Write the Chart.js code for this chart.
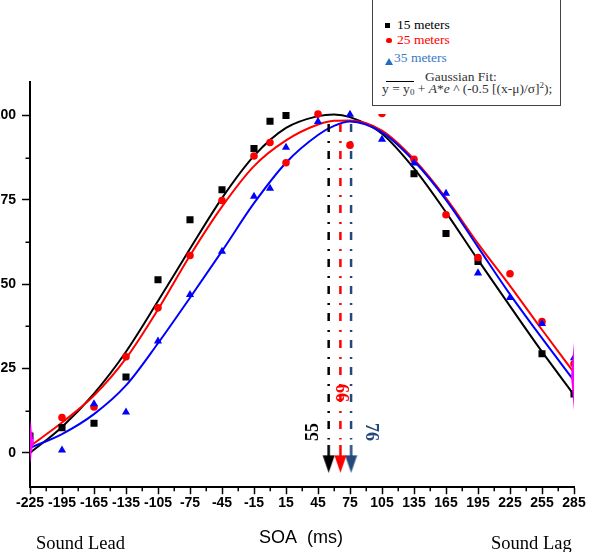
<!DOCTYPE html>
<html><head><meta charset="utf-8">
<script src="https://cdn.jsdelivr.net/npm/chart.js@4"></script>
<style>
body{margin:0;background:#fff;}
#wrap{position:relative;width:591px;height:552px;overflow:hidden;background:#fff;}
#c{position:absolute;left:0;top:0;}
.t{position:absolute;white-space:nowrap;line-height:1;}
.serif{font-family:"Liberation Serif","Times New Roman",serif;}
.sans{font-family:"Liberation Sans",Arial,sans-serif;}
#lgbox{position:absolute;left:372px;top:-3px;width:189px;height:109px;border:1.5px solid #444;background:#fff;box-sizing:border-box;}
</style></head>
<body><div id="wrap">
<canvas id="c" width="591" height="552"></canvas>
<div class="t" style="left:374px;top:104px;width:186px;height:9.5px;background:#fff;"></div>
<div id="lgbox"></div>
<div class="t" style="left:385px;top:23px;width:4.5px;height:4.5px;background:#000;"></div>
<div class="t serif" style="left:397px;top:18px;font-size:13.5px;color:#000;">15 meters</div>
<div class="t" style="left:386px;top:37.5px;width:5.5px;height:5.5px;border-radius:50%;background:#ff0000;"></div>
<div class="t serif" style="left:397px;top:33px;font-size:13.5px;color:#ff0000;">25 meters</div>
<div class="t" style="left:385px;top:58px;width:0;height:0;border-left:4px solid transparent;border-right:4px solid transparent;border-bottom:7px solid #1e6ec8;"></div>
<div class="t serif" style="left:394px;top:51px;font-size:13.5px;color:#3a78c6;">35 meters</div>
<div class="t" style="left:386px;top:80.5px;width:28px;height:1.3px;background:#000;"></div>
<div class="t serif" style="left:425px;top:70px;font-size:13.5px;color:#333;">Gaussian Fit:</div>
<div class="t serif" style="left:382px;top:81px;font-size:13.5px;color:#333;">y = y<span style="font-size:9px;vertical-align:-2px;">0</span> + <i>A</i>*<i>e</i> ^ (-0.5 [(x-μ)/σ]<span style="font-size:9px;vertical-align:5px;">2</span>);</div>

<div class="t serif" style="left:312px;top:432px;font-weight:bold;font-size:18px;transform:translate(-50%,-50%) rotate(-90deg);color:#000;">55</div>
<div class="t serif" style="left:342px;top:392.5px;font-weight:bold;font-size:18px;transform:translate(-50%,-50%) rotate(90deg);color:#ff0000;">66</div>
<div class="t serif" style="left:372px;top:432px;font-weight:bold;font-size:18px;transform:translate(-50%,-50%) rotate(90deg);color:#24497a;">76</div>

<div class="t sans" style="left:301px;top:537px;font-size:18px;transform:translate(-50%,-50%);color:#000;">SOA&nbsp; (ms)</div>
<div class="t serif" style="left:36px;top:543px;font-size:18.5px;transform:translateY(-50%);color:#000;">Sound Lead</div>
<div class="t serif" style="left:491px;top:543px;font-size:18.5px;transform:translateY(-50%);color:#000;">Sound Lag</div>
</div>
<script>
// ---- data ----
const xTicks = [-225,-195,-165,-135,-105,-75,-45,-15,15,45,75,105,135,165,195,225,255,285];
const xMinorTicks = [-210,-180,-150,-120,-90,-60,-30,0,30,60,90,120,150,180,210,240,270];
const yTicks = [0,25,50,75,100];
const yMinorTicks = [12.5,37.5,62.5,87.5];

const soa15 = [-225,-195,-165,-135,-105,-75,-45,-15,0,15,135,165,195,255,285];
const pts15 = [5,7.5,8.8,22.5,51.3,69.1,78,90.2,98.3,100,82.7,65,56.7,29.4,17.5];
const soa25 = [-195,-165,-135,-105,-75,-45,-15,0,15,45,75,105,135,165,195,225,255,285];
const pts25 = [10.5,13.6,28.5,43,58.5,74.8,88,92,86,100.4,91.2,100.6,87,70.6,57.9,53.1,38.9,26.4];
const soa35 = [-195,-165,-135,-105,-75,-45,-15,0,15,45,75,105,135,165,195,225,255,285];
const pts35 = [0.8,14.5,12.1,33.1,46.9,59.7,76,78.4,90.5,98.2,100.3,92.9,85.9,76.9,53.3,46,38.3,28.2];

const soaFit = [-225,-195,-165,-135,-105,-75,-45,-15,15,45,60,75,105,135,165,195,225,255,285];
const fit15 = [0,7.7,17.6,30,45,60.5,75.5,88,96.3,99.8,100.3,99.5,94.6,84.3,71.3,57.2,43.5,30,17.2];
const fit25 = [2,9,17,28,42.5,58.5,73,85,92.6,97.3,98.4,98.5,95.5,87,75.5,62,49.5,36.5,23.8];
const fit35 = [1.5,5.6,11.5,20,32.5,46,59.8,74,86,94.2,96.9,98.2,95,86.5,75,61,47,34,21.4];

const peakSOA = [55,66,76];
const peakTop = 97.5, peakBottom = 4, arrowLevel = -1.9;
const edgeSOA = [-225,285];
const edgeVals = [3.4,22.7];

// ---- helpers ----
const pairs = (xs, ys) => xs.map((x,i)=>({x, y: ys[i]}));
function arrowCanvas(color){
  const c = document.createElement('canvas'); c.width = 13; c.height = 28;
  const g = c.getContext('2d'); g.fillStyle = color;
  g.fillRect(5.25,0,2.5,11);
  g.beginPath(); g.moveTo(0.5,10); g.lineTo(12.5,10); g.lineTo(6.5,27.5); g.closePath(); g.fill();
  return c;
}
function diamondCanvas(w,h){
  const c = document.createElement('canvas'); c.width = w; c.height = h;
  const g = c.getContext('2d'); g.fillStyle = '#ff00ff';
  g.beginPath(); g.moveTo(w/2,0); g.lineTo(w,h/2); g.lineTo(w/2,h); g.lineTo(0,h/2); g.closePath(); g.fill();
  return c;
}
const peakColors = ['#000000','#ff0000','#24497a'];

const datasets = [];
datasets.push({data: pairs(edgeSOA, edgeVals), pointStyle:[diamondCanvas(7,44), diamondCanvas(6,68)], pointRadius:5, showLine:false, order:0});
peakSOA.forEach((s,i)=>{
  datasets.push({data:[{x:s,y:arrowLevel}], pointStyle: arrowCanvas(peakColors[i]), pointRadius:6, showLine:false, order:1});
});
datasets.push({data: pairs(soa35, pts35), pointStyle:'triangle', pointRadius:4.7, backgroundColor:'#0000ff', borderColor:'#0000ff', borderWidth:0, showLine:false, order:2});
datasets.push({data: pairs(soa25, pts25), pointStyle:'circle', pointRadius:3.8, backgroundColor:'#ff0000', borderColor:'#ff0000', borderWidth:0, showLine:false, order:3});
datasets.push({data: pairs(soa15, pts15), pointStyle:'rect', pointRadius:5, backgroundColor:'#000000', borderColor:'#000000', borderWidth:0, showLine:false, order:4});
peakSOA.forEach((s,i)=>{
  datasets.push({data:[{x:s,y:peakTop},{x:s,y:peakBottom}], showLine:true, pointRadius:0, borderColor:peakColors[i], borderWidth:2.5, borderDash:[8,9,2,8], borderCapStyle:'butt', order:5});
});
[[fit35,'#0000ff'],[fit25,'#ff0000'],[fit15,'#000000']].forEach(([f,col],k)=>{
  datasets.push({data: pairs(soaFit, f), showLine:true, pointRadius:0, borderColor:col, borderWidth:2, cubicInterpolationMode:'monotone', fill:false, order:6+k});
});

const minorTicks = {
  id:'minorTicks',
  afterDraw(chart){
    const {ctx, scales:{x, y}} = chart;
    ctx.save(); ctx.strokeStyle='#000'; ctx.lineWidth=1.5;
    xMinorTicks.forEach(v=>{const p=Math.round(x.getPixelForValue(v))+0.25; ctx.beginPath(); ctx.moveTo(p,y.bottom); ctx.lineTo(p,y.bottom+4.5); ctx.stroke();});
    yMinorTicks.forEach(v=>{const p=Math.round(y.getPixelForValue(v))+0.25; ctx.beginPath(); ctx.moveTo(x.left-4.5,p); ctx.lineTo(x.left,p); ctx.stroke();});
    ctx.restore();
  }
};

new Chart(document.getElementById('c'), {
  type:'scatter',
  data:{datasets},
  options:{
    responsive:false, animation:false, devicePixelRatio:1,
    layout:{padding:{top:81.7, right:17, left:0, bottom:0}},
    plugins:{legend:{display:false}, tooltip:{enabled:false}},
    scales:{
      x:{type:'linear', min:-225, max:285,
        afterFit:s=>{s.height=65.3;},
        afterBuildTicks:s=>{s.ticks = xTicks.map(v=>({value:v}));},
        ticks:{autoSkip:false, maxRotation:0, padding:1, color:'#000', font:{family:'"Liberation Sans", Arial', size:14, weight:'bold'}},
        grid:{drawOnChartArea:false, drawTicks:true, tickLength:7.5, tickWidth:1.5, tickColor:'#000'},
        border:{display:true, color:'#000', width:2}
      },
      y:{type:'linear', min:-10, max:110,
        afterFit:s=>{s.width=30;},
        afterBuildTicks:s=>{s.ticks = yTicks.map(v=>({value:v}));},
        ticks:{autoSkip:false, padding:6, color:'#000', font:{family:'"Liberation Sans", Arial', size:14, weight:'bold'}},
        grid:{drawOnChartArea:false, drawTicks:true, tickLength:8, tickWidth:1.5, tickColor:'#000'},
        border:{display:true, color:'#000', width:2}
      }
    }
  },
  plugins:[minorTicks]
});
</script>
</body></html>
